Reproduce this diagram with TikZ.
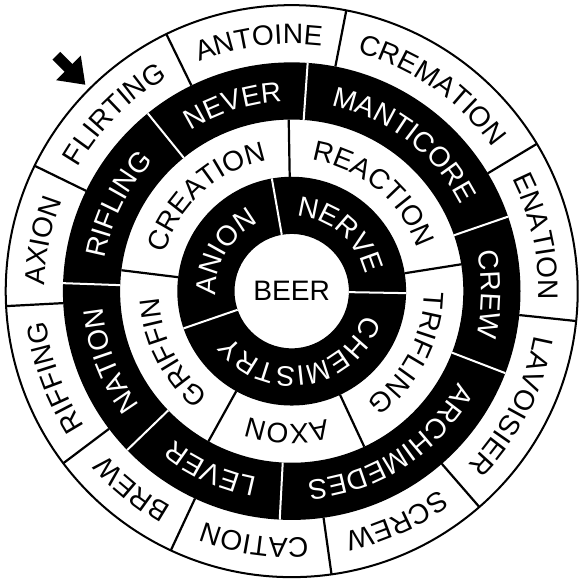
\documentclass[tikz,border=0pt]{standalone}
\usepackage{fontspec}
\setmainfont{Liberation Sans}
\usetikzlibrary{decorations.text, arrows.meta}
\newcommand{\wfont}{\fontsize{14}{16}\selectfont}
\begin{document}
\begin{tikzpicture}[line width=1pt,
    arcword/.style args={#1/#2}{decorate, decoration={text along path, text align=center,
      text={|\wfont|#1}, text color=#2}},
    bsep/.style={draw=black, line width=1.1pt},
    wsep/.style={draw=white, line width=1pt},
    pointer/.style={-{Triangle[length=0.42cm, width=0.58cm]}, line width=0.19cm}]
  \useasboundingbox (-5.1,-5.09) rectangle (5.11,5.09);
  % black rings and outer rim
  \fill[black, even odd rule] (0,0) circle (2) circle (1);
  \fill[black, even odd rule] (0,0) circle (4) circle (3);
  \draw (0,0) circle (5);
  % dividers, ring by ring
  \foreach \a in {100,199,359} \draw[wsep] (\a:1) -- (\a:2);
  \foreach \a in {91,9,295,241,173} \draw[bsep] (\a:2) -- (\a:3);
  \foreach \a in {86,19,339,267,224,178,129} \draw[wsep] (\a:3) -- (\a:4);
  \foreach \a in {116,79,31,354,311,278,245,217,183,154} \draw[bsep] (\a:4) -- (\a:5);
  % centre
  \node (beer) at (0,0) {\wfont BEER};
  % ring 1
  \path[arcword=ANION/white] (199:1.32) arc[start angle=199, end angle=100, radius=1.32];
  \path[arcword=NERVE/white] (100:1.32) arc[start angle=100, end angle=-1, radius=1.32];
  \path[arcword=CHEMISTRY/white] (359:1.32) arc[start angle=359, end angle=199, radius=1.32];
  % ring 2
  \path[arcword=CREATION/black] (173:2.32) arc[start angle=173, end angle=91, radius=2.32];
  \path[arcword=REACTION/black] (91:2.32) arc[start angle=91, end angle=9, radius=2.32];
  \path[arcword=TRIFLING/black] (9:2.32) arc[start angle=9, end angle=-65, radius=2.32];
  \path[arcword=AXON/black] (295:2.32) arc[start angle=295, end angle=241, radius=2.32];
  \path[arcword=GRIFFIN/black] (241:2.32) arc[start angle=241, end angle=173, radius=2.32];
  % ring 3
  \path[arcword=NEVER/white] (129:3.32) arc[start angle=129, end angle=86, radius=3.32];
  \path[arcword=MANTICORE/white] (86:3.32) arc[start angle=86, end angle=19, radius=3.32];
  \path[arcword=CREW/white] (19:3.32) arc[start angle=19, end angle=-21, radius=3.32];
  \path[arcword=ARCHIMEDES/white] (339:3.32) arc[start angle=339, end angle=267, radius=3.32];
  \path[arcword=LEVER/white] (267:3.32) arc[start angle=267, end angle=224, radius=3.32];
  \path[arcword=NATION/white] (224:3.32) arc[start angle=224, end angle=178, radius=3.32];
  \path[arcword=RIFLING/white] (178:3.32) arc[start angle=178, end angle=129, radius=3.32];
  % ring 4
  \path[arcword=ANTOINE/black] (116:4.32) arc[start angle=116, end angle=79, radius=4.32];
  \path[arcword=CREMATION/black] (79:4.32) arc[start angle=79, end angle=31, radius=4.32];
  \path[arcword=ENATION/black] (31:4.32) arc[start angle=31, end angle=-6, radius=4.32];
  \path[arcword=LAVOISIER/black] (354:4.32) arc[start angle=354, end angle=311, radius=4.32];
  \path[arcword=SCREW/black] (311:4.32) arc[start angle=311, end angle=278, radius=4.32];
  \path[arcword=CATION/black] (278:4.32) arc[start angle=278, end angle=245, radius=4.32];
  \path[arcword=BREW/black] (245:4.32) arc[start angle=245, end angle=217, radius=4.32];
  \path[arcword=RIFFING/black] (217:4.32) arc[start angle=217, end angle=183, radius=4.32];
  \path[arcword=AXION/black] (183:4.32) arc[start angle=183, end angle=154, radius=4.32];
  \path[arcword=FLIRTING/black] (154:4.32) arc[start angle=154, end angle=116, radius=4.32];
  % pointer
  \coordinate (tail) at (135:5.82);
  \coordinate (tip) at (135:5.1);
  \draw[pointer] (tail) -- (tip);
\end{tikzpicture}
\end{document}
